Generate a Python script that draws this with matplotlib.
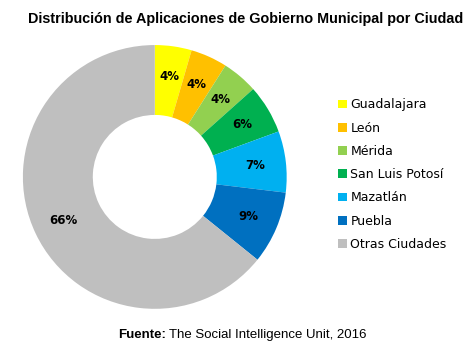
import matplotlib
matplotlib.use("Agg")
import matplotlib.pyplot as plt

ciudades = ["Guadalajara", "León", "Mérida", "San Luis Potosí",
            "Mazatlán", "Puebla", "Otras Ciudades"]
# tamaño de cada sector (en %)
participacion = [4.5, 4.5, 4.4, 6.0, 7.5, 8.9, 64.2]
# etiquetas tal como aparecen en la gráfica original
etiquetas = ["4%", "4%", "4%", "6%", "7%", "9%", "66%"]
colores = ["#FFFF00", "#FFC000", "#92D050", "#00B050",
           "#00B0F0", "#0070C0", "#BFBFBF"]

fig = plt.figure(figsize=(4.77, 3.56), dpi=100)
ax = fig.add_axes([0.048, 0.132, 0.553, 0.742])

it = iter(etiquetas)
wedges, texts, autotexts = ax.pie(
    participacion, colors=colores, startangle=90, counterclock=False,
    autopct=lambda p: next(it), pctdistance=0.77,
    wedgeprops=dict(width=0.53, edgecolor="none", linewidth=0),
    textprops=dict(fontsize=8.5, fontweight="bold", color="black"))
ax.set_aspect("equal")
ax.set_xlim(-1, 1)
ax.set_ylim(-1, 1)

leg = fig.legend(wedges, ciudades, loc="upper left",
                 bbox_to_anchor=(0.685, 0.755), frameon=False,
                 fontsize=9, handlelength=0.7, handleheight=0.7,
                 handletextpad=0.3, labelspacing=0.82)

fig.text(0.514, 0.947, "Distribución de Aplicaciones de Gobierno Municipal por Ciudad",
         ha="center", va="center", fontsize=10.4, fontweight="bold",
         family="Liberation Sans")

# pie de fuente: parte en negrita y parte normal
t1 = fig.text(0.247, 0.059, "Fuente:", ha="left", va="center",
              fontsize=9.5, fontweight="bold", family="Liberation Sans")
fig.canvas.draw()
bb = t1.get_window_extent().transformed(fig.transFigure.inverted())
fig.text(bb.x1 + 0.006, 0.059, "The Social Intelligence Unit, 2016", ha="left",
         va="center", fontsize=9.5, family="Liberation Sans")

fig.savefig("out.png", dpi=100)
